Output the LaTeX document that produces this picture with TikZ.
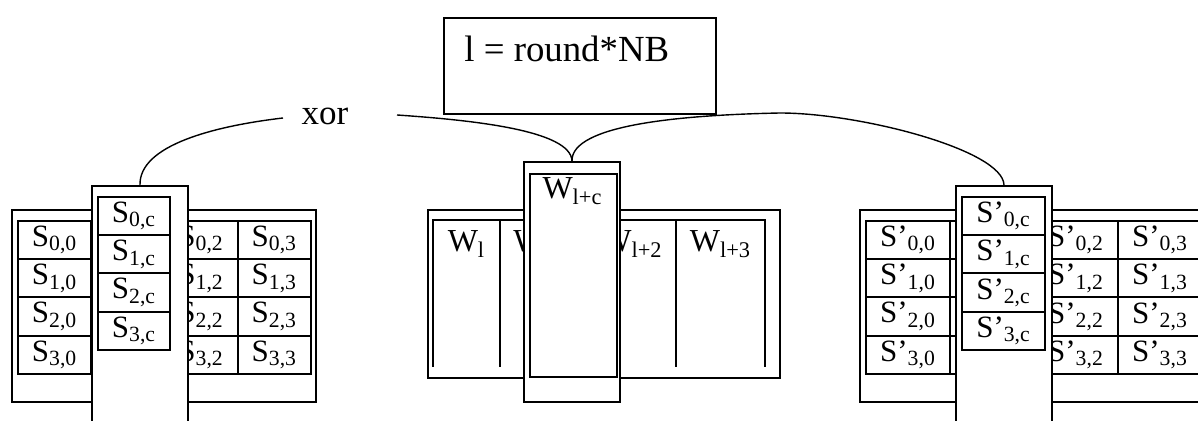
\documentclass[tikz,border=0pt]{standalone}
\usepackage{fontspec}
\setmainfont{Liberation Serif}
\usetikzlibrary{positioning, calc}
\newcommand{\cellfont}{\fontsize{15.5}{17}\selectfont}
\newcommand{\wfont}{\fontsize{16}{18}\selectfont}
\newcommand{\bigfont}{\fontsize{18.4}{21}\selectfont}
\newcommand{\xorfont}{\fontsize{17.5}{20}\selectfont}
\tikzset{
    % Boxes - plain black frames
    outerbox/.style={
        rectangle,
        draw=black,
        fill=white,
        line width=1pt,
        inner sep=0pt,
        anchor=north west
    },
    cellbox/.style={
        rectangle,
        draw=black,
        line width=1pt,
        inner sep=0pt,
        anchor=north west,
        font=\cellfont
    },
    wlabel/.style={
        inner sep=0pt,
        anchor=base,
        font=\wfont
    },
    gridline/.style={
        line width=1pt,
        draw=black
    },
    % Connector - thin curve, no tips
    link/.style={
        line width=0.7pt,
        draw=black
    }
}

\begin{document}
\begin{tikzpicture}[x=0.5pt, y=-0.5pt]
    \useasboundingbox (0,0) rectangle (1198,421);
    \clip (0,0) rectangle (1198,421);

    % State S (column 1 lies under the strip)
    \node[outerbox, minimum width=152pt, minimum height=96pt] (sbox) at (11,209) {};
    \foreach \r in {0,...,3} {
        \node[cellbox, minimum width=36.6pt, minimum height=19.1pt] (s\r1) at (90.25,{220+38.25*\r}) {};
        \foreach \c in {0,2,3} {
            \node[cellbox, minimum width=36.6pt, minimum height=19.1pt] (s\r\c) at ({17+73.25*\c},{220+38.25*\r}) {S\textsubscript{\r,\c}};
        }
    }

    % Column of S
    \node[outerbox, minimum width=48pt, minimum height=125pt] (scol) at (91,185) {};
    \foreach \r in {0,...,3} {
        \node[cellbox, minimum width=36pt, minimum height=19.1pt] (sc\r) at (97,{196+38.25*\r}) {S\textsubscript{\r,c}};
    }

    % Key schedule words
    \node[outerbox, minimum width=176pt, minimum height=84pt] (wbox) at (427,209) {};
    \draw[gridline] (433,367) -- (433,220) -- (765,220) -- (765,367);
    \foreach \x in {500,588,676} {
        \draw[gridline] (\x,220) -- (\x,367);
    }
    \foreach \i/\x/\s in {0/466.5/l, 1/544/l+1, 2/632/l+2, 3/720.5/l+3} {
        \node[wlabel] (w\i) at (\x,252) {W\textsubscript{\s}};
    }

    % Word used for this column
    \node[outerbox, minimum width=48pt, minimum height=120pt] (wcol) at (523,161) {};
    \node[cellbox, minimum width=43.5pt, minimum height=101.5pt] (wc) at (529,173) {};
    \node[wlabel] (wclabel) at (572.5,199) {W\textsubscript{l+c}};

    % New state S' (column 1 lies under the strip)
    \node[outerbox, minimum width=175pt, minimum height=96pt] (tbox) at (859,209) {};
    \foreach \r in {0,...,3} {
        \node[cellbox, minimum width=42pt, minimum height=19.1pt] (t\r1) at (949,{220+38.25*\r}) {};
        \foreach \c in {0,2,3} {
            \node[cellbox, minimum width=42pt, minimum height=19.1pt] (t\r\c) at ({865+84*\c},{220+38.25*\r}) {S’\textsubscript{\r,\c}};
        }
    }

    % Column of S'
    \node[outerbox, minimum width=48pt, minimum height=125pt] (tcol) at (955,185) {};
    \foreach \r in {0,...,3} {
        \node[cellbox, minimum width=41.5pt, minimum height=19.1pt] (tc\r) at (961,{196+38.25*\r}) {S’\textsubscript{\r,c}};
    }

    % Round offset
    \node[outerbox, minimum width=136pt, minimum height=48pt] (nbox) at (443,17) {};
    \node[anchor=base west, inner sep=0pt, font=\bigfont] (ntext) at (464,62) {l = round*NB};

    % xor connector
    \node[anchor=base, inner sep=0pt, font=\xorfont] (xor) at (325,125) {xor};
    \coordinate (xorL) at (283,118);
    \coordinate (xorR) at (397,115);
    \draw[link] (scol.north) .. controls (139,145) and (215,126) .. (xorL);
    \draw[link] (xorR) .. controls (470,120) and (571,130) .. (wcol.north);
    \draw[link] (wcol.north) .. controls (571,125) and (680,115) .. (780,113)
        .. controls (860,113) and (1003,150) .. (tcol.north);
\end{tikzpicture}
\end{document}
